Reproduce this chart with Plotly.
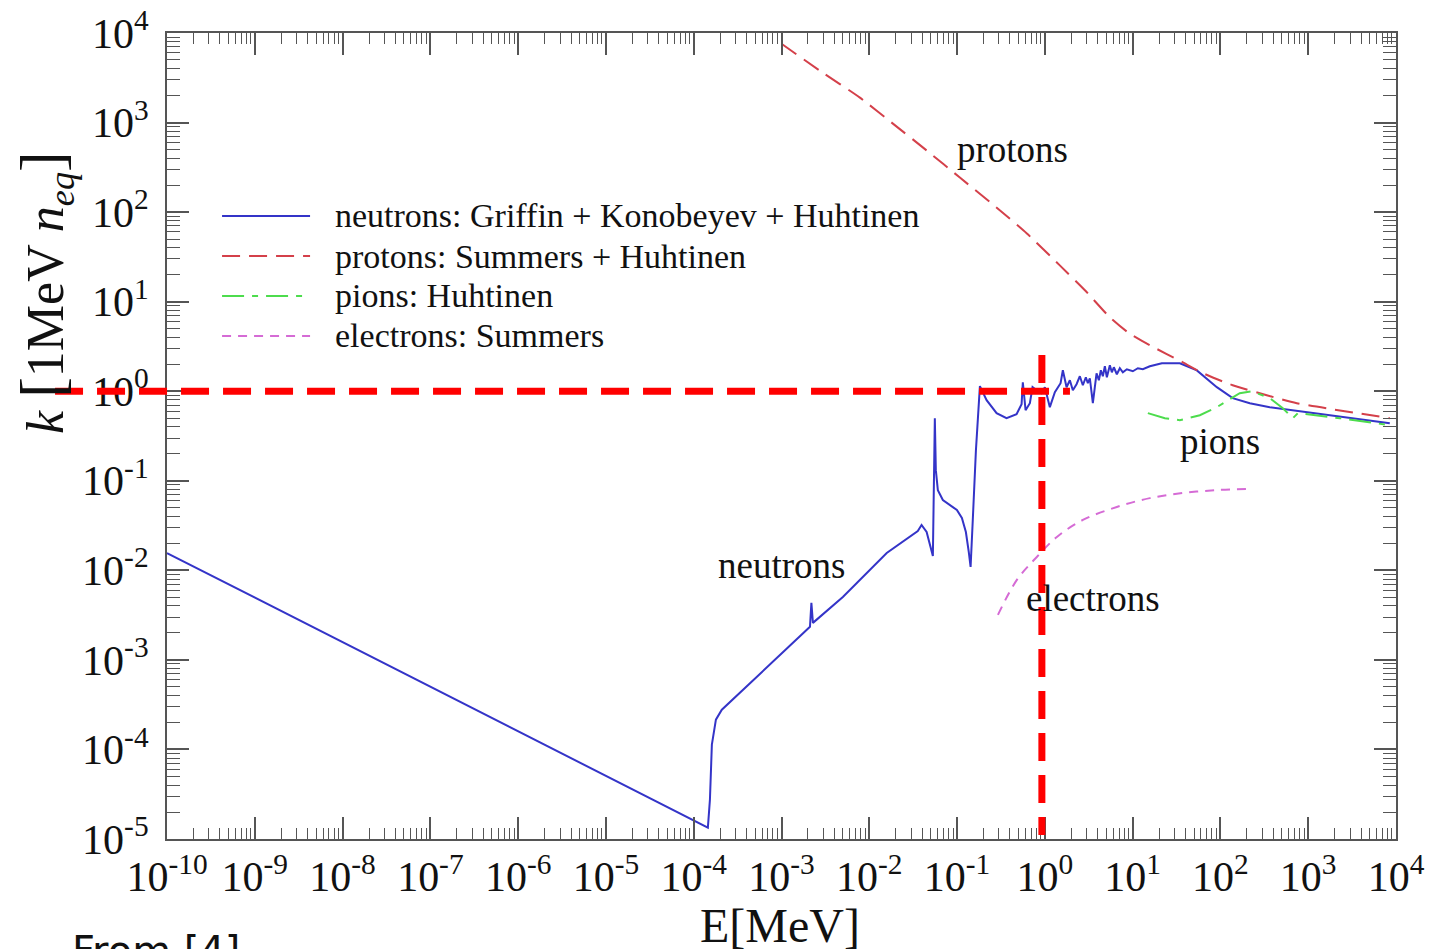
import plotly.graph_objects as go

# ---- displacement damage functions, k in units of 1 MeV neutron equivalent ----
neutron_E = [1e-10, 1.45e-4, 1.53e-4, 1.61e-4, 1.79e-4, 2.09e-4, 2.11e-3, 2.19e-3, 2.28e-3,
             5.0e-3, 0.0158, 0.0357, 0.0394, 0.045, 0.053, 0.0558, 0.0573, 0.0604, 0.0689,
             0.0828, 0.0995, 0.1135, 0.126, 0.136, 0.1426, 0.151, 0.164, 0.182, 0.197,
             0.217, 0.282, 0.366, 0.476, 0.543, 0.561, 0.603, 0.675, 0.724, 0.80,
             0.917, 1.0, 1.14, 1.30, 1.51, 1.603, 1.767, 1.926, 2.084, 2.296,
             2.504, 2.708, 2.931, 3.089, 3.254, 3.522, 3.879, 4.121, 4.344, 4.577,
             4.825, 5.085, 5.50, 5.797, 6.109, 6.607, 7.148, 7.734, 8.592, 10.05,
             11.46, 13.07, 15.70, 21.5, 34.5, 53.9, 91, 138, 216, 365,
             802, 8500]
neutron_k = [0.0156, 1.34e-5, 2.75e-5, 1.13e-4, 2.15e-4, 2.78e-4, 2.34e-3, 4.33e-3, 2.59e-3,
             5.05e-3, 0.0156, 0.0275, 0.0321, 0.0268, 0.0145, 0.5, 0.1315, 0.0787, 0.061,
             0.0536, 0.0471, 0.0384, 0.0268, 0.016, 0.0109, 0.0365, 0.22, 1.14, 0.95,
             0.794, 0.569, 0.50, 0.554, 0.716, 1.26, 0.614, 0.735, 1.11, 1.03,
             0.95, 1.11, 0.664, 0.975, 1.228, 1.714, 1.108, 1.326, 1.026, 1.197,
             1.470, 1.166, 1.432, 1.228, 1.396, 0.735, 1.587, 1.326, 1.714, 1.470,
             1.899, 1.432, 1.950, 1.628, 1.852, 1.547, 1.805, 1.628, 1.759, 1.671,
             1.805, 1.759, 1.899, 2.05, 2.05, 1.71, 1.11, 0.836, 0.735, 0.664,
             0.598, 0.44]

proton_E = [1.0e-3, 2.735e-3, 7.82e-3, 0.01858, 0.0453, 0.1076, 0.256, 0.624, 1.48, 2.86,
            5.50, 8.81, 15.7, 37.3, 63.1, 138, 337, 741, 8500]
proton_k = [7580, 3793, 1897, 973, 486, 243, 121.6, 57.7, 25.4, 13.4,
            6.68, 4.55, 3.26, 2.10, 1.59, 1.166, 0.902, 0.735, 0.50]

pion_E = [14.9, 23.3, 34.5, 58.3, 91, 166, 228, 366, 514, 668, 762, 2290, 8500]
pion_k = [0.569, 0.50, 0.475, 0.54, 0.664, 0.95, 1.0, 0.836, 0.646, 0.5, 0.569, 0.5, 0.418]

electron_E = [0.292, 0.48, 0.81, 1.37, 2.71, 6.6, 15.7, 37.3, 91, 205]
electron_k = [0.00318, 0.00782, 0.0141, 0.0236, 0.0365, 0.051, 0.064, 0.073, 0.0787, 0.081]

# decade ticks and their labels
x_decades = list(range(-10, 5))
y_decades = list(range(-5, 5))
x_ticktext = [f"10<sup>{d}</sup>" for d in x_decades]
y_ticktext = [f"10<sup>{d}</sup>" for d in y_decades]

legend_labels = ["neutrons: Griffin + Konobeyev + Huhtinen",
                 "protons: Summers + Huhtinen",
                 "pions: Huhtinen",
                 "electrons: Summers"]

BLUE = "#3434c8"
RED = "#d4404a"
GREEN = "#4ddc4d"
MAGENTA = "#d56bd5"
SERIF = "Liberation Serif, Times New Roman, serif"

fig = go.Figure()
fig.add_trace(go.Scatter(x=neutron_E, y=neutron_k, mode="lines",
                         line=dict(color=BLUE, width=2)))
fig.add_trace(go.Scatter(x=proton_E, y=proton_k, mode="lines", line_shape="spline",
                         line=dict(color=RED, width=2, dash="18px,9px", smoothing=0.6)))
fig.add_trace(go.Scatter(x=pion_E, y=pion_k, mode="lines",
                         line=dict(color=GREEN, width=2, dash="22px,8px,6px,8px")))
fig.add_trace(go.Scatter(x=electron_E, y=electron_k, mode="lines", line_shape="spline",
                         line=dict(color=MAGENTA, width=2, dash="9px,7px")))

minor_x = [m * 10 ** d for d in range(-10, 4) for m in range(2, 10)]
minor_y = [m * 10 ** d for d in range(-5, 4) for m in range(2, 10)]

axis_common = dict(type="log", showgrid=False, zeroline=False, showline=True, automargin=False,
                   linecolor="#555555", linewidth=2, mirror="allticks", ticks="inside",
                   ticklen=22, tickwidth=1.5, tickcolor="#555555",
                   tickfont=dict(family=SERIF, size=42, color="#111111"))

fig.update_xaxes(range=[-10, 4], tickmode="array",
                 tickvals=[10 ** d for d in x_decades], ticktext=x_ticktext,
                 minor=dict(tickmode="array", tickvals=minor_x, ticks="inside",
                            ticklen=11, tickwidth=1.2, tickcolor="#555555", showgrid=False),
                 **axis_common)
fig.update_yaxes(range=[-5, 4], tickmode="array",
                 tickvals=[10 ** d for d in y_decades], ticktext=y_ticktext,
                 ticklabelstandoff=8,
                 minor=dict(tickmode="array", tickvals=minor_y, ticks="inside",
                            ticklen=13, tickwidth=1.2, tickcolor="#555555", showgrid=False),
                 **axis_common)

shapes = []
annotations = []

# legend drawn by hand: sample line + caption per row
legend_styles = [(BLUE, "solid"), (RED, "18px,9px"), (GREEN, "22px,8px,6px,8px"), (MAGENTA, "9px,7px")]
legend_rows_y = [0.7730, 0.7233, 0.6737, 0.6241]
for (col, dash), yrow, label in zip(legend_styles, legend_rows_y, legend_labels):
    shapes.append(dict(type="line", xref="paper", yref="paper", x0=0.0448, x1=0.1164,
                       y0=yrow, y1=yrow, line=dict(color=col, width=2, dash=dash)))
    annotations.append(dict(xref="paper", yref="paper", x=0.135, y=yrow, xanchor="left",
                            yanchor="middle", text=label, showarrow=False,
                            font=dict(family=SERIF, size=34, color="#111111")))

# curve labels
for txt, xp, yp in [("protons", 0.6883, 0.8549), ("pions", 0.8568, 0.4926),
                    ("neutrons", 0.5004, 0.3399), ("electrons", 0.7535, 0.2990)]:
    annotations.append(dict(xref="paper", yref="paper", x=xp, y=yp, xanchor="center",
                            yanchor="middle", text=txt, showarrow=False,
                            font=dict(family=SERIF, size=37, color="#111111")))

# axis titles
annotations.append(dict(xref="paper", yref="paper", x=0.4988, y=-0.1067, xanchor="center",
                        yanchor="middle", text="E[MeV]", showarrow=False,
                        font=dict(family=SERIF, size=48, color="#111111")))
annotations.append(dict(xref="paper", yref="paper", x=-0.0993, y=0.6787, xanchor="center",
                        yanchor="middle", textangle=-90, showarrow=False,
                        text="<i>k</i> <span style='font-size:62px'>[</span>1MeV <i>n</i><sub><i>eq</i></sub><span style='font-size:62px'>]</span>",
                        font=dict(family=SERIF, size=52, color="#111111")))
annotations.append(dict(xref="paper", yref="paper", x=-0.079, y=-0.108, xanchor="left",
                        yanchor="top", text="From [4]", showarrow=False,
                        font=dict(family="DejaVu Sans, sans-serif", size=40, color="#111111")))

# reference markers at k = 1 and E = 1 MeV
shapes.append(dict(type="line", xref="paper", yref="y", x0=-0.0911, x1=0.7347, y0=1, y1=1,
                   line=dict(color="#ff0000", width=7, dash="28px,14px"), layer="above"))
shapes.append(dict(type="line", xref="x", yref="paper", x0=0.925, x1=0.925, y0=0.6005, y1=0.005,
                   line=dict(color="#ff0000", width=7, dash="28px,14px"), layer="above"))

fig.update_layout(width=1432, height=949, showlegend=False,
                  paper_bgcolor="white", plot_bgcolor="white",
                  margin=dict(l=167, r=36, t=33, b=110),
                  shapes=shapes, annotations=annotations)

fig.write_html("out.html")
